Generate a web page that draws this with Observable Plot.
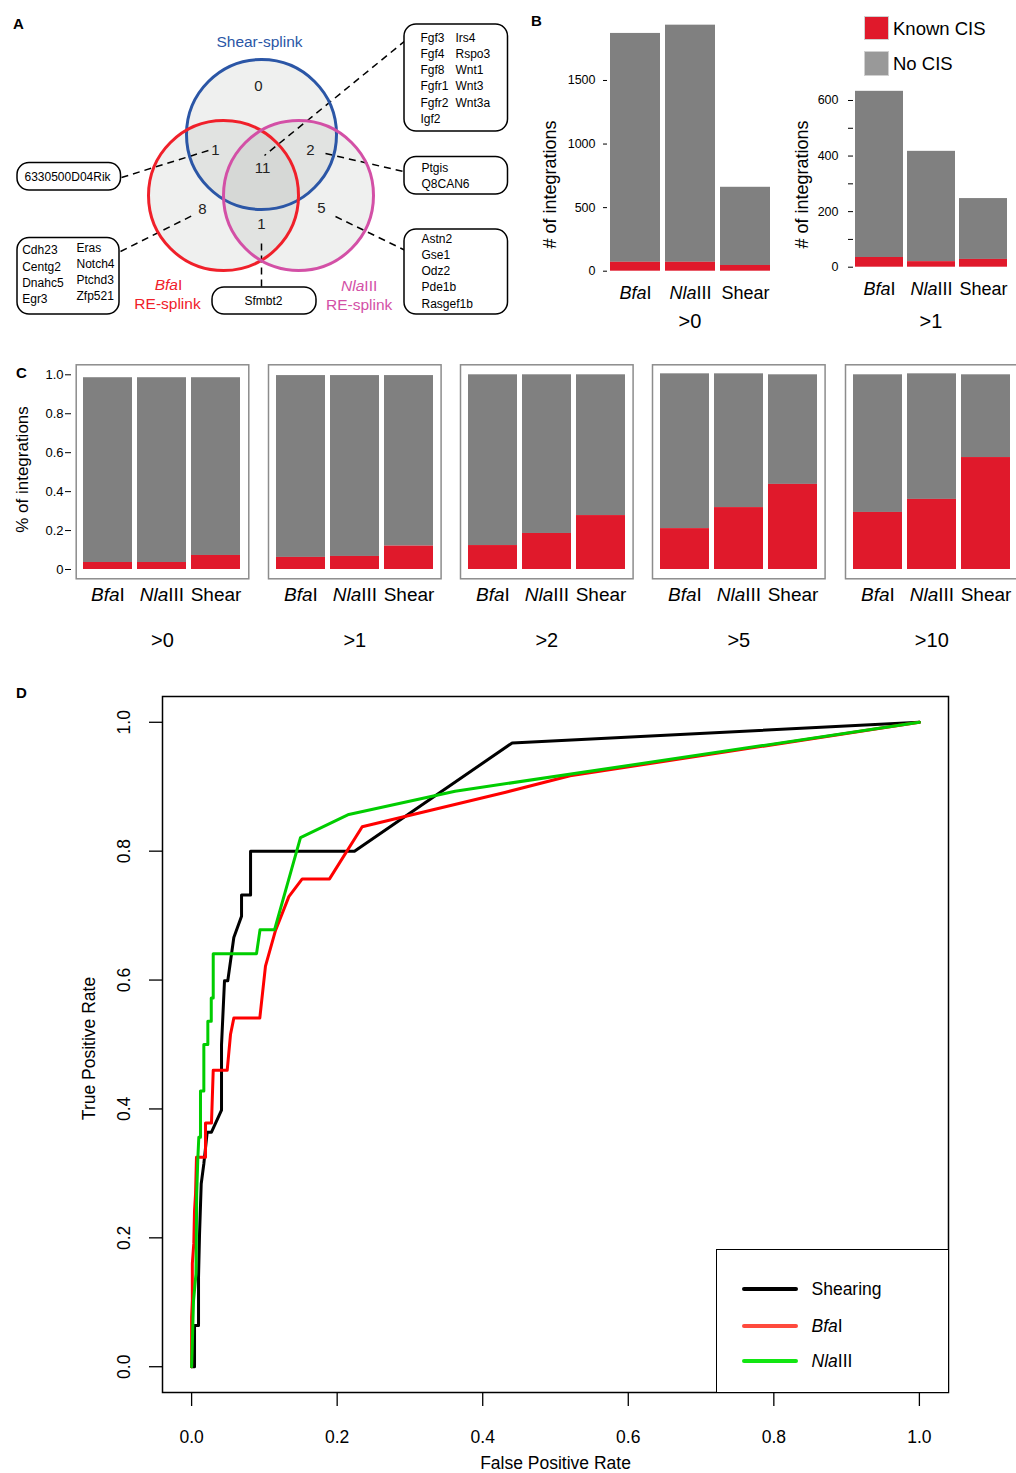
<!DOCTYPE html>
<html>
<head>
<meta charset="utf-8">
<script src="https://cdn.jsdelivr.net/npm/d3@7"></script>
<script src="https://cdn.jsdelivr.net/npm/@observablehq/plot@0.6"></script>
<style>
html,body{margin:0;padding:0;background:#fff;}
#root{position:relative;width:1016px;height:1473px;overflow:hidden;font-family:"Liberation Sans",Arial,Helvetica,sans-serif;color:#000;}
.plab{position:absolute;font-weight:bold;font-size:15px;line-height:15px;}
.leg{position:absolute;white-space:nowrap;}
</style>
</head>
<body>
<div id="root"></div>
<script>
// ================= DATA =================
const methods = ["BfaI", "NlaIII", "Shear"];
const RED = "#e0192b", GRAY = "#808080";

// Panel A (Venn)
const vennNames = ["Shear-splink", "BfaI", "NlaIII"];
const vennColors = ["#2b56a6", "#f0202a", "#d350a6"];
const vennCounts = ["0", "1", "11", "2", "8", "1", "5"];
const geneGroupTopRight = ["Fgf3", "Fgf4", "Fgf8", "Fgfr1", "Fgfr2", "Igf2"];
const geneGroupTopRight2 = ["Irs4", "Rspo3", "Wnt1", "Wnt3", "Wnt3a"];
const geneGroupShearBfa = ["6330500D04Rik"];
const geneGroupShearNla = ["Ptgis", "Q8CAN6"];
const geneGroupBfa1 = ["Cdh23", "Centg2", "Dnahc5", "Egr3"];
const geneGroupBfa2 = ["Eras", "Notch4", "Ptchd3", "Zfp521"];
const geneGroupBfaNla = ["Sfmbt2"];
const geneGroupNla = ["Astn2", "Gse1", "Odz2", "Pde1b", "Rasgef1b"];

// Panel B (# of integrations)
const bTotal0 = [1870, 1935, 660];
const bKnown0 = [70, 70, 45];
const bTotal1 = [633, 417, 247];
const bKnown1 = [35, 20, 28];
const bTicks0 = [0, 500, 1000, 1500];
const bTicks1 = [0, 100, 200, 300, 400, 500, 600];
const bLegendLabels = ["Known CIS", "No CIS"];
const bLegendColors = [RED, "#999999"];

// Panel C (% of integrations)
const cThresholds = [">0", ">1", ">2", ">5", ">10"];
const cKnown = [
  [0.036, 0.036, 0.072],
  [0.062, 0.067, 0.12],
  [0.123, 0.185, 0.277],
  [0.21, 0.318, 0.437],
  [0.293, 0.36, 0.575]
];
const cTotal = [
  [0.985, 0.985, 0.985],
  [0.996, 0.996, 0.996],
  [1, 1, 1],
  [1.005, 1.005, 1],
  [1, 1.005, 1]
];
const cTicks = [0, 0.2, 0.4, 0.6, 0.8, 1.0];

// Panel D (ROC)
const rocTicks = [0, 0.2, 0.4, 0.6, 0.8, 1.0];
const shearFPR = [0, 0.004, 0.004, 0.0095, 0.0095, 0.0109, 0.0132, 0.0168, 0.0214, 0.0273, 0.0411, 0.0411, 0.0452, 0.0497, 0.058, 0.0686, 0.0686, 0.081, 0.081, 0.2238, 0.4405, 1];
const shearTPR = [0, 0, 0.064, 0.064, 0.139, 0.206, 0.284, 0.315, 0.364, 0.364, 0.398, 0.4995, 0.599, 0.599, 0.666, 0.699, 0.732, 0.732, 0.80, 0.80, 0.968, 1];
const bfaFPR = [0, 0, 0, 0.001, 0.001, 0.003, 0.004, 0.0054, 0.0067, 0.0191, 0.0191, 0.0273, 0.0297, 0.0489, 0.0535, 0.058, 0.0937, 0.1015, 0.1153, 0.1336, 0.152, 0.1895, 0.2344, 0.4316, 0.52, 1];
const bfaTPR = [0, 0.036, 0.077, 0.103, 0.16, 0.191, 0.242, 0.268, 0.325, 0.325, 0.378, 0.378, 0.46, 0.46, 0.516, 0.541, 0.541, 0.6215, 0.677, 0.7295, 0.757, 0.757, 0.838, 0.8915, 0.917, 1];
const nlaFPR = [0, 0.001, 0.0026, 0.006, 0.007, 0.0085, 0.0099, 0.0122, 0.0122, 0.0168, 0.0168, 0.0223, 0.0223, 0.027, 0.027, 0.0297, 0.0297, 0.0892, 0.094, 0.1139, 0.1496, 0.216, 0.362, 1];
const nlaTPR = [0, 0.036, 0.102, 0.144, 0.268, 0.322, 0.356, 0.356, 0.428, 0.428, 0.5, 0.5, 0.536, 0.536, 0.572, 0.572, 0.641, 0.641, 0.678, 0.678, 0.821, 0.857, 0.893, 1];
const rocLegendLabels = ["Shearing", "BfaI", "NlaIII"];
const rocLineColors = ["#000000", "#ff0000", "#00cd00"];
const rocLegendColors = ["#000000", "#ff4a3d", "#12e612"];

// ================= HELPERS =================
const FONT = '"Liberation Sans", Arial, Helvetica, sans-serif';
const root = document.getElementById("root");
const STYLE = {fontFamily: FONT, fontSize: "12px", color: "#000", background: "transparent", overflow: "visible"};

function italicize(el) {
  el.querySelectorAll("text").forEach(t => {
    if (t.children.length) return;
    const s = t.textContent;
    if (s === "BfaI") t.innerHTML = '<tspan font-style="italic">Bfa</tspan>I';
    else if (s === "NlaIII") t.innerHTML = '<tspan font-style="italic">Nla</tspan>III';
  });
}
function place(el, left, top) {
  el.style.position = "absolute";
  el.style.left = left + "px";
  el.style.top = top + "px";
  root.appendChild(el);
  italicize(el);
}
function htmlName(s) {
  if (s === "BfaI") return "<i>Bfa</i>I";
  if (s === "NlaIII") return "<i>Nla</i>III";
  return s;
}
// rotated axis title anchored on the left side of the frame
function yTitle(t, dx, dy, fontSize) {
  return Plot.text([t], {frameAnchor: "left", textAnchor: "middle", lineAnchor: "middle", rotate: -90, dx, dy, fontSize});
}
function bottomTitle(t, dy, fontSize) {
  return Plot.text([t], {frameAnchor: "bottom", textAnchor: "middle", lineAnchor: "middle", dy, fontSize});
}

// ================= PANEL A =================
{
  const sets = vennNames.map((n, i) => ({n, cx: [261, 223, 298][i], cy: [134, 195, 195][i], c: vennColors[i]}));
  const counts = vennCounts.map((t, i) => ({t, x: [258, 215, 262, 310, 202, 261, 321][i], y: [86, 150, 168, 150, 209, 224, 208][i]}));
  const leaders = [
    {x1: 405, y1: 40, x2: 264, y2: 155},
    {x1: 121, y1: 177, x2: 208, y2: 150},
    {x1: 325, y1: 153, x2: 403, y2: 171},
    {x1: 120, y1: 251, x2: 192, y2: 215},
    {x1: 335, y1: 216, x2: 405, y2: 250},
    {x1: 261, y1: 243, x2: 261, y2: 287}
  ];
  const boxes = [
    {x1: 404, x2: 507.5, y1: 24, y2: 131},
    {x1: 17, x2: 120.5, y1: 162.5, y2: 190},
    {x1: 404, x2: 507.5, y1: 156.5, y2: 194},
    {x1: 17, x2: 119, y1: 237.5, y2: 314},
    {x1: 212, x2: 316, y1: 287, y2: 314},
    {x1: 404, x2: 507.5, y1: 229, y2: 314}
  ];
  const genes = [];
  const rows6 = [37.3, 53.5, 69.7, 86, 102.3, 118.5];
  geneGroupTopRight.forEach((t, i) => genes.push({t, x: 420, y: rows6[i]}));
  geneGroupTopRight2.forEach((t, i) => genes.push({t, x: 455, y: rows6[i]}));
  geneGroupShearBfa.forEach(t => genes.push({t, x: 24, y: 176.5}));
  geneGroupShearNla.forEach((t, i) => genes.push({t, x: 421, y: [167.7, 183.3][i]}));
  geneGroupBfa1.forEach((t, i) => genes.push({t, x: 21.7, y: [250, 266.7, 282.7, 299][i]}));
  geneGroupBfa2.forEach((t, i) => genes.push({t, x: 76, y: [247.3, 263.3, 279.3, 296][i]}));
  geneGroupNla.forEach((t, i) => genes.push({t, x: 421, y: [238.3, 254.3, 270.3, 286.7, 303.3][i]}));
  const centerGenes = geneGroupBfaNla.map(t => ({t, x: 263, y: 300.7}));
  const setLabels = [
    {t: vennNames[0], x: 259, y: 42, c: vennColors[0]},
    {t: vennNames[1], x: 168, y: 285, c: vennColors[1]},
    {t: "RE-splink", x: 167, y: 304, c: vennColors[1]},
    {t: vennNames[2], x: 358.7, y: 286, c: vennColors[2]},
    {t: "RE-splink", x: 358.7, y: 305, c: vennColors[2]}
  ];
  const venn = Plot.plot({
    width: 525, height: 325, margin: 0,
    x: {domain: [0, 525], range: [0, 525], axis: null},
    y: {domain: [0, 325], range: [0, 325], axis: null},
    style: STYLE,
    marks: [
      Plot.dot(sets, {x: "cx", y: "cy", r: 75, fill: "#a0a8a0", fillOpacity: 0.17, stroke: "none"}),
      Plot.link(leaders, {x1: "x1", y1: "y1", x2: "x2", y2: "y2", stroke: "black", strokeWidth: 1.5, strokeDasharray: "7,5"}),
      ...sets.map(s => Plot.dot([s], {x: "cx", y: "cy", r: 75, fill: "none", stroke: s.c, strokeWidth: 3})),
      Plot.rect(boxes, {x1: "x1", x2: "x2", y1: "y1", y2: "y2", rx: 12, fill: "white", stroke: "black", strokeWidth: 1.5}),
      Plot.text(genes, {x: "x", y: "y", text: "t", textAnchor: "start", fontSize: 12}),
      Plot.text(centerGenes, {x: "x", y: "y", text: "t", fontSize: 12}),
      Plot.text(counts, {x: "x", y: "y", text: "t", fontSize: 15, fill: "#222"}),
      ...setLabels.map(l => Plot.text([l], {x: "x", y: "y", text: "t", fill: l.c, fontSize: 15.5}))
    ]
  });
  place(venn, 0, 0);
}

// ================= PANEL B =================
function bRows(total, known) { return methods.map((m, i) => ({method: m, total: total[i], known: known[i]})); }
{
  const b1 = Plot.plot({
    width: 250, height: 340, marginLeft: 79, marginRight: 10, marginTop: 16.4, marginBottom: 69.3,
    x: {domain: methods, paddingInner: 0.1, paddingOuter: 0},
    y: {domain: [0, 2000]},
    style: STYLE,
    marks: [
      Plot.barY(bRows(bTotal0, bKnown0), {x: "method", y1: "known", y2: "total", fill: GRAY, inset: 0}),
      Plot.barY(bRows(bTotal0, bKnown0), {x: "method", y1: 0, y2: "known", fill: RED, inset: 0}),
      Plot.axisY({ticks: bTicks0, tickFormat: d => String(d), tickSize: 4, tickPadding: 8, dx: -2, fontSize: 12.5, label: null}),
      Plot.axisX({tickSize: 0, tickPadding: 15, fontSize: 18, label: null}),
      yTitle("# of integrations", -59, 40.5, 18),
      bottomTitle(">0", 50.3, 20)
    ]
  });
  place(b1, 530, 0);

  const b2 = Plot.plot({
    width: 226, height: 340, marginLeft: 64, marginRight: 9, marginTop: 72.2, marginBottom: 73.3,
    x: {domain: methods, paddingInner: 0.086, paddingOuter: 0},
    y: {domain: [0, 700]},
    style: STYLE,
    marks: [
      Plot.barY(bRows(bTotal1, bKnown1), {x: "method", y1: "known", y2: "total", fill: GRAY, inset: 0}),
      Plot.barY(bRows(bTotal1, bKnown1), {x: "method", y1: 0, y2: "known", fill: RED, inset: 0}),
      Plot.axisY({ticks: bTicks1, tickFormat: d => d % 200 === 0 ? String(d) : "", tickSize: 5, tickPadding: 10, dx: -1, fontSize: 12.5, label: null}),
      Plot.axisX({tickSize: 0, tickPadding: 15, fontSize: 18, label: null}),
      yTitle("# of integrations", -52.5, 14.5, 18),
      bottomTitle(">1", 54.3, 20)
    ]
  });
  place(b2, 790, 0);

  const leg = document.createElement("div");
  leg.className = "leg";
  bLegendLabels.forEach((lab, i) => {
    const row = document.createElement("div");
    row.style.cssText = `position:absolute;left:0;top:${i * 35.5}px;height:23px;display:flex;align-items:center;`;
    row.innerHTML = `<span style="display:inline-block;width:23px;height:${i ? 23 : 22}px;background:${bLegendColors[i]};box-shadow:0 0 0 1px #d0d0d0;"></span><span style="margin-left:5px;font-size:18.5px;line-height:23px;">${lab}</span>`;
    leg.appendChild(row);
  });
  leg.style.left = "865px"; leg.style.top = "16.5px";
  root.appendChild(leg);
}

// ================= PANEL C =================
cThresholds.forEach((thr, k) => {
  const first = k === 0;
  const ml = first ? 75.7 : 8, mr = 8, inner = 172.6;
  const boxLeft = 75.7 + 192.2 * k;
  const rows = methods.map((m, i) => ({method: m, known: cKnown[k][i], total: cTotal[k][i]}));
  const marks = [
    Plot.frame({stroke: "#8c8c8c", strokeWidth: 1.5}),
    Plot.barY(rows, {x: "method", y1: "known", y2: "total", fill: GRAY, inset: 0}),
    Plot.barY(rows, {x: "method", y1: 0, y2: "known", fill: RED, inset: 0}),
    Plot.axisX({tickSize: 0, tickPadding: 9, fontSize: 19, label: null}),
    bottomTitle(thr, 61.7, 20)
  ];
  if (first) {
    marks.push(Plot.axisY({ticks: cTicks, tickFormat: d => d === 0 ? "0" : d.toFixed(1), tickSize: 6, tickPadding: 2, dx: -4.7, fontSize: 13, label: null}));
    marks.push(yTitle("% of integrations", -53.7, -2.3, 17));
  } else {
    marks.push(Plot.axisY({ticks: [], label: null}));
  }
  const p = Plot.plot({
    width: ml + inner + mr, height: 300, marginLeft: ml, marginRight: mr, marginTop: 4.3, marginBottom: 81.7,
    x: {domain: methods, paddingInner: 0.0909, paddingOuter: 0, inset: 6.3},
    y: {domain: [0, 1], insetTop: 10, insetBottom: 9.3},
    style: STYLE,
    marks
  });
  place(p, boxLeft - ml, 360);
});

// ================= PANEL D =================
{
  const toRows = (fpr, tpr) => fpr.map((x, i) => ({x, y: tpr[i]}));
  const curves = [toRows(shearFPR, shearTPR), toRows(bfaFPR, bfaTPR), toRows(nlaFPR, nlaTPR)];
  const d = Plot.plot({
    width: 1016, height: 793, marginTop: 16, marginLeft: 162, marginRight: 68, marginBottom: 81,
    x: {domain: [-0.04, 1.04]},
    y: {domain: [-0.04, 1.04]},
    style: STYLE,
    marks: [
      Plot.axisX({ticks: rocTicks, tickSize: 14, tickPadding: 24, tickFormat: v => v.toFixed(1), fontSize: 17.5, strokeWidth: 1.3, label: null}),
      Plot.axisY({ticks: rocTicks, tickSize: 13, tickFormat: () => "", strokeWidth: 1.3, label: null}),
      Plot.text(rocTicks, {y: v => v, text: v => v.toFixed(1), frameAnchor: "left", textAnchor: "middle", lineAnchor: "middle", rotate: -90, dx: -38, fontSize: 17.5}),
      ...curves.map((c, i) => Plot.line(c, {x: "x", y: "y", stroke: rocLineColors[i], strokeWidth: 3})),
      Plot.frame({stroke: "black", strokeWidth: 1.5}),
      bottomTitle("False Positive Rate", 71, 17.5),
      yTitle("True Positive Rate", -73, 4, 17.5)
    ]
  });
  place(d, 0, 680);

  const leg = document.createElement("div");
  leg.style.cssText = "position:absolute;left:716px;top:1249px;width:230.5px;height:141.5px;border:1.5px solid #000;background:#fff;";
  rocLegendLabels.forEach((lab, i) => {
    const cy = [39.2, 75.5, 111.2][i];
    const row = document.createElement("div");
    row.style.cssText = `position:absolute;left:24.5px;top:${cy - 11}px;height:22px;display:flex;align-items:center;white-space:nowrap;`;
    row.innerHTML = `<span style="display:inline-block;width:56px;height:4px;border-radius:2px;background:${rocLegendColors[i]};"></span><span style="margin-left:14px;font-size:17.5px;line-height:22px;">${htmlName(lab)}</span>`;
    leg.appendChild(row);
  });
  root.appendChild(leg);
}

// ================= PANEL LETTERS =================
[["A", 13, 16], ["B", 531, 13], ["C", 16, 365], ["D", 16, 685]].forEach(([t, l, tp]) => {
  const el = document.createElement("div");
  el.className = "plab"; el.textContent = t;
  el.style.left = l + "px"; el.style.top = tp + "px";
  root.appendChild(el);
});
</script>
</body>
</html>
